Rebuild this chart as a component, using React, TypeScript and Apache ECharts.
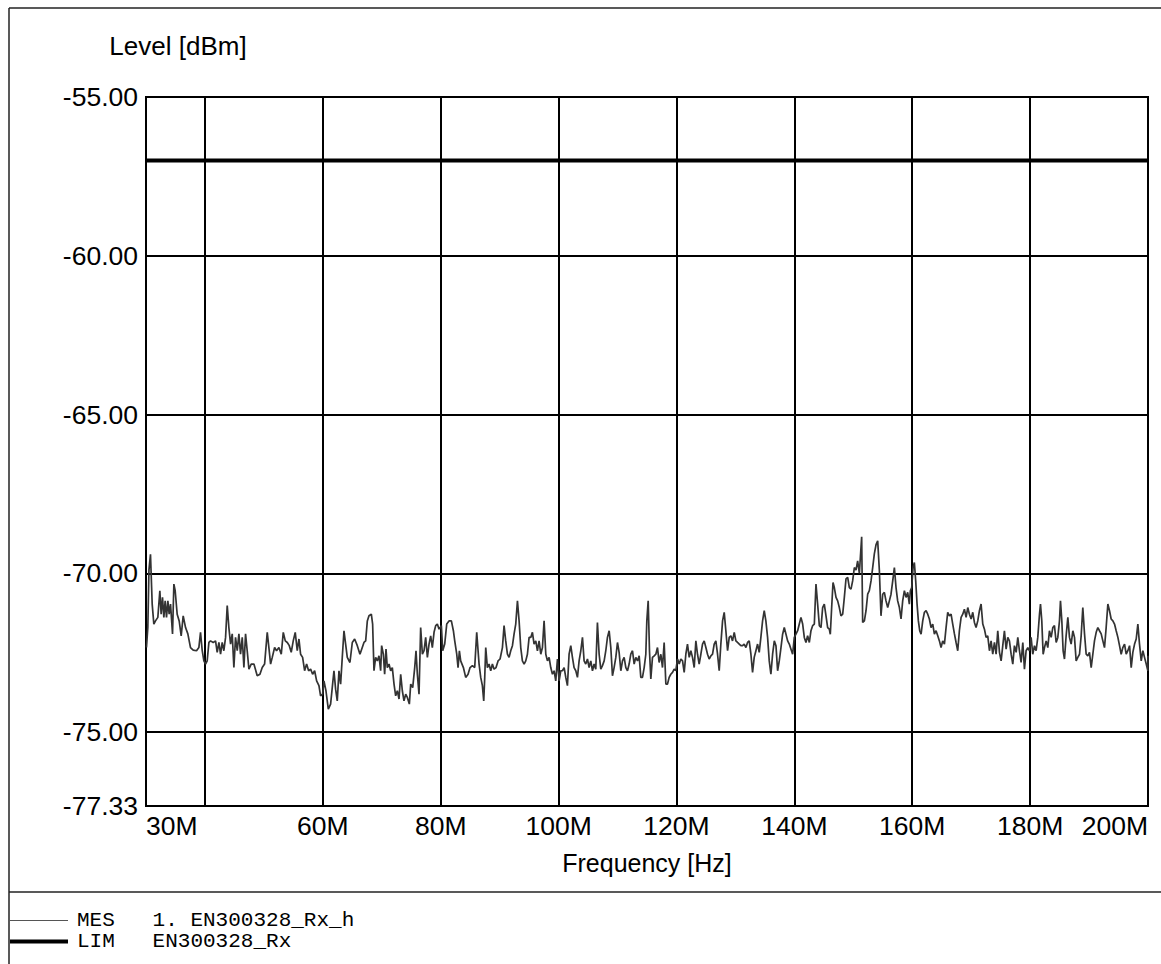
import React, { useEffect, useRef } from 'react';
import * as echarts from 'echarts';

// Axis ranges
const xMinMHz = 30;
const xMaxMHz = 200;
const yMinDbm = -77.33;
const yMaxDbm = -55;

// Frequencies (MHz) that carry a tick label
const xLabelValues = [30, 60, 80, 100, 120, 140, 160, 180, 200];

// Limit line (LIM) [MHz, dBm]
const limitLine = [
  [30, -57],
  [200, -57],
];

// Measured trace (MES) [MHz, dBm]
const mesTrace = [
  [30.08, -72.34], [30.31, -71.71], [30.5, -69.9], [30.76, -69.4], [31.05, -70.97], [31.33, -71.6], [31.61, -71.5], [32.01, -71.39],
  [32.35, -70.55], [32.57, -71.29], [32.8, -70.76], [33.03, -71.39], [33.25, -70.87], [33.48, -71.39], [33.71, -70.87], [33.93, -71.29],
  [34.16, -70.97], [34.5, -71.91], [34.73, -70.34], [34.95, -70.55], [35.29, -71.29], [35.63, -71.5], [35.97, -71.97], [36.31, -71.34],
  [36.71, -71.71], [37.1, -71.91], [37.55, -72.34], [38.01, -72.42], [38.57, -72.44], [38.97, -72.34], [39.25, -71.86], [39.54, -72.44],
  [39.82, -72.76], [40.1, -72.86], [40.38, -72.76], [40.67, -72.18], [40.95, -72.13], [41.4, -72.18], [41.8, -72.13], [42.08, -72.49],
  [42.37, -72.18], [42.65, -72.55], [42.93, -72.18], [43.21, -72.44], [43.5, -72.02], [43.78, -71.02], [44.06, -71.71], [44.35, -72.23],
  [44.63, -71.91], [44.91, -72.97], [45.19, -72.02], [45.48, -72.44], [45.76, -71.91], [46.04, -72.55], [46.33, -72.02], [46.61, -72.97],
  [46.89, -71.91], [47.17, -72.44], [47.46, -73.02], [47.85, -72.86], [48.31, -72.86], [48.87, -73.23], [49.33, -73.18], [49.72, -72.97],
  [50.12, -72.86], [50.57, -71.86], [50.85, -72.34], [51.14, -72.86], [51.42, -72.65], [51.82, -72.34], [52.15, -72.44], [52.55, -72.34],
  [52.95, -72.55], [53.29, -71.86], [53.63, -72.13], [53.97, -72.18], [54.31, -72.28], [54.64, -72.49], [54.98, -72.13], [55.32, -71.86],
  [55.66, -72.44], [55.95, -72.07], [56.23, -72.55], [56.57, -72.65], [56.91, -73.07], [57.25, -72.86], [57.59, -73.07], [57.93, -73.02],
  [58.27, -73.18], [58.61, -73.07], [58.95, -73.39], [59.34, -73.54], [59.62, -73.86], [59.96, -73.81], [60.19, -73.39], [60.53, -73.7],
  [60.93, -74.28], [61.32, -74.12], [61.66, -73.49], [61.89, -73.07], [62.17, -73.65], [62.45, -74.02], [62.74, -73.07], [63.02, -73.49],
  [63.3, -72.65], [63.59, -71.81], [63.87, -72.23], [64.15, -72.65], [64.6, -72.81], [65.0, -72.18], [65.4, -72.07], [65.85, -72.28],
  [66.3, -72.55], [66.42, -72.49], [66.98, -72.18], [67.27, -72.13], [67.55, -71.5], [67.83, -71.34], [68.23, -71.29], [68.45, -71.6],
  [68.68, -73.07], [68.96, -72.65], [69.25, -72.76], [69.53, -72.6], [69.81, -73.07], [69.98, -72.28], [70.27, -72.55], [70.49, -73.18],
  [70.72, -72.39], [70.94, -72.97], [71.23, -72.86], [71.51, -73.07], [71.79, -72.97], [72.08, -73.49], [72.36, -73.86], [72.64, -73.7],
  [72.93, -73.96], [73.21, -73.18], [73.49, -73.7], [73.77, -74.02], [74.06, -73.81], [74.34, -73.91], [74.68, -74.12], [74.91, -73.49],
  [75.25, -73.6], [75.59, -72.97], [75.81, -72.44], [76.04, -73.18], [76.32, -73.81], [76.6, -71.71], [76.89, -72.55], [77.17, -72.44],
  [77.45, -72.02], [77.74, -72.65], [78.02, -72.23], [78.3, -71.97], [78.58, -72.34], [78.87, -71.86], [79.15, -71.65], [79.43, -71.6],
  [79.72, -71.76], [80.11, -71.65], [80.34, -72.44], [80.68, -72.23], [81.02, -71.6], [81.41, -71.5], [81.81, -71.5], [82.15, -71.81],
  [82.38, -72.13], [82.72, -72.55], [82.94, -72.97], [83.17, -72.44], [83.39, -72.76], [83.85, -72.97], [84.24, -73.28], [84.64, -73.18],
  [84.98, -72.97], [85.38, -72.91], [85.77, -72.97], [86.11, -71.86], [86.51, -72.86], [86.79, -73.28], [87.07, -73.54], [87.3, -74.02],
  [87.47, -73.28], [87.64, -72.34], [87.92, -72.97], [88.2, -72.86], [88.49, -73.07], [88.77, -72.86], [89.05, -73.02], [89.39, -72.97],
  [89.73, -72.76], [90.07, -72.7], [90.47, -72.34], [90.75, -71.65], [91.03, -72.13], [91.32, -72.55], [91.6, -72.65], [91.88, -72.44],
  [92.17, -72.28], [92.45, -71.91], [92.73, -71.6], [93.02, -70.87], [93.3, -71.5], [93.58, -72.34], [93.86, -72.76], [94.15, -72.86],
  [94.43, -72.76], [94.71, -72.55], [95.0, -72.02], [95.28, -72.02], [95.56, -71.86], [95.84, -72.23], [96.13, -72.13], [96.41, -72.44],
  [96.69, -72.13], [96.98, -72.55], [97.26, -72.34], [97.54, -71.5], [97.83, -72.55], [98.11, -72.76], [98.39, -72.65], [98.67, -72.97],
  [98.96, -73.18], [99.24, -73.07], [99.52, -73.39], [99.81, -72.7], [100.09, -73.39], [100.37, -73.07], [100.65, -73.07], [100.94, -72.97],
  [101.22, -73.28], [101.5, -73.54], [101.78, -72.55], [102.07, -72.28], [102.35, -72.65], [102.63, -72.97], [102.92, -73.07], [103.2, -73.28],
  [103.48, -72.76], [103.77, -72.44], [104.05, -72.02], [104.33, -72.76], [104.61, -72.86], [104.9, -72.7], [105.18, -72.97], [105.46, -72.76],
  [105.75, -73.07], [106.03, -72.86], [106.31, -73.02], [106.59, -71.55], [106.88, -72.55], [107.16, -73.02], [107.44, -72.91], [107.73, -72.76],
  [108.01, -72.44], [108.29, -72.02], [108.58, -71.81], [108.86, -72.34], [109.14, -73.23], [109.42, -72.97], [109.71, -72.65], [109.99, -72.18],
  [110.27, -72.49], [110.56, -73.07], [110.84, -72.76], [111.12, -72.65], [111.41, -72.97], [111.69, -73.07], [111.97, -72.86], [112.25, -72.55],
  [112.54, -72.44], [112.82, -72.86], [113.1, -72.65], [113.39, -72.76], [113.67, -72.6], [113.95, -73.28], [114.23, -73.28], [114.52, -72.97],
  [114.8, -72.55], [114.97, -71.5], [115.2, -70.87], [115.42, -72.44], [115.65, -73.33], [115.93, -72.65], [116.22, -72.6], [116.5, -72.55],
  [116.78, -72.34], [117.06, -72.81], [117.35, -72.55], [117.63, -72.97], [117.91, -72.18], [118.2, -73.49], [118.48, -73.49], [118.76, -73.28],
  [119.04, -73.18], [119.33, -73.12], [119.61, -73.02], [119.89, -73.07], [120.18, -72.7], [120.46, -72.86], [120.74, -72.7], [121.03, -72.76],
  [121.31, -73.12], [121.59, -72.55], [121.87, -72.23], [122.16, -72.65], [122.44, -72.44], [122.72, -72.65], [123.01, -72.97], [123.29, -72.13],
  [123.57, -72.55], [123.85, -72.86], [124.14, -72.55], [124.42, -72.23], [124.7, -72.13], [124.99, -72.34], [125.27, -72.55], [125.55, -72.7],
  [125.84, -72.6], [126.12, -72.55], [126.4, -72.23], [126.68, -72.13], [126.97, -72.55], [127.25, -73.07], [127.53, -72.23], [127.82, -71.5],
  [128.1, -71.23], [128.38, -71.81], [128.67, -72.44], [128.95, -72.02], [129.23, -71.97], [129.51, -72.13], [129.8, -71.86], [130.08, -72.13],
  [130.36, -72.18], [130.65, -72.23], [130.93, -72.28], [131.21, -72.28], [131.49, -72.23], [131.78, -72.34], [132.06, -72.18], [132.34, -72.13],
  [132.63, -72.55], [132.91, -73.12], [133.19, -72.65], [133.48, -72.44], [133.76, -72.23], [134.04, -72.49], [134.32, -72.02], [134.61, -71.5],
  [134.89, -71.18], [135.17, -71.5], [135.46, -72.02], [135.74, -72.76], [136.02, -73.18], [136.31, -72.55], [136.6, -72.13], [136.88, -72.28],
  [137.16, -73.07], [137.44, -72.76], [137.73, -72.34], [138.01, -71.92], [138.29, -71.71], [138.58, -71.92], [138.86, -72.13], [139.14, -72.23],
  [139.43, -72.39], [139.71, -72.55], [139.99, -72.02], [140.27, -71.92], [140.56, -71.81], [140.84, -71.6], [141.12, -71.39], [141.41, -71.6],
  [141.69, -72.02], [141.97, -72.18], [142.25, -71.97], [142.54, -72.18], [142.82, -71.81], [143.1, -71.65], [143.39, -71.6], [143.67, -70.34],
  [143.95, -70.97], [144.24, -71.65], [144.52, -71.71], [144.8, -71.08], [145.08, -70.97], [145.37, -71.34], [145.65, -71.71], [145.93, -71.76],
  [146.1, -71.92], [146.33, -71.08], [146.56, -70.29], [146.78, -70.45], [147.07, -70.76], [147.35, -70.87], [147.63, -71.08], [147.91, -71.34],
  [148.2, -71.29], [148.48, -70.76], [148.76, -70.18], [149.05, -70.13], [149.33, -70.45], [149.61, -70.5], [149.89, -70.24], [150.18, -69.82],
  [150.46, -69.9], [150.74, -69.61], [151.03, -70.0], [151.42, -68.85], [151.59, -71.55], [151.88, -71.5], [152.16, -71.18], [152.44, -70.66],
  [152.72, -70.55], [153.01, -70.24], [153.29, -69.82], [153.57, -69.39], [153.86, -69.1], [154.14, -68.98], [154.42, -69.9], [154.7, -71.34],
  [154.99, -70.66], [155.27, -70.6], [155.55, -70.87], [155.84, -71.08], [156.12, -70.87], [156.4, -70.66], [156.69, -70.24], [156.97, -69.82],
  [157.25, -70.45], [157.53, -70.87], [157.82, -71.08], [158.1, -71.44], [158.38, -70.87], [158.67, -70.55], [158.95, -70.76], [159.23, -70.6],
  [159.51, -70.97], [159.68, -70.55], [159.91, -70.45], [160.14, -69.82], [160.36, -69.66], [160.59, -70.24], [160.82, -70.97], [161.04, -71.5],
  [161.27, -71.81], [161.5, -71.92], [161.78, -71.5], [162.06, -71.23], [162.35, -71.18], [162.63, -71.29], [162.91, -71.44], [163.19, -71.71],
  [163.48, -71.6], [163.76, -71.92], [164.04, -71.81], [164.33, -71.97], [164.61, -72.13], [164.89, -72.34], [165.17, -72.13], [165.46, -72.23],
  [165.74, -71.71], [166.02, -71.23], [166.31, -71.34], [166.59, -71.29], [166.87, -71.6], [167.16, -71.91], [167.44, -72.18], [167.72, -72.44],
  [168.0, -71.81], [168.29, -71.39], [168.57, -71.29], [168.85, -71.13], [169.14, -71.39], [169.42, -71.08], [169.7, -71.29], [169.99, -71.44],
  [170.27, -71.23], [170.55, -71.55], [170.83, -71.71], [171.12, -71.5], [171.4, -71.18], [171.68, -70.97], [171.97, -71.6], [172.25, -71.76],
  [172.53, -72.02], [172.81, -71.97], [173.1, -72.44], [173.38, -72.13], [173.66, -72.55], [173.95, -72.18], [174.23, -72.55], [174.51, -71.81],
  [174.8, -72.49], [175.08, -72.76], [175.36, -72.28], [175.64, -71.81], [175.93, -72.39], [176.21, -72.02], [176.49, -72.13], [176.78, -72.55],
  [177.06, -72.86], [177.34, -72.28], [177.63, -72.49], [177.91, -72.02], [178.19, -72.44], [178.47, -72.81], [178.76, -72.18], [179.04, -73.02],
  [179.32, -72.44], [179.61, -72.34], [179.89, -72.44], [180.17, -72.02], [180.45, -72.55], [180.74, -72.28], [181.02, -72.44], [181.3, -72.02],
  [181.59, -71.29], [181.76, -70.97], [181.98, -71.5], [182.21, -72.55], [182.44, -72.34], [182.72, -72.13], [183.0, -72.34], [183.28, -71.81],
  [183.57, -72.02], [183.85, -71.71], [184.13, -71.65], [184.42, -72.18], [184.7, -72.02], [184.98, -71.5], [185.15, -70.87], [185.38, -71.5],
  [185.6, -72.44], [185.83, -72.7], [186.11, -71.97], [186.4, -71.39], [186.68, -72.02], [186.96, -72.23], [187.25, -71.81], [187.53, -72.02],
  [187.81, -72.76], [188.09, -72.65], [188.38, -72.55], [188.66, -71.97], [188.94, -71.08], [189.23, -71.91], [189.51, -72.55], [189.79, -72.6],
  [190.07, -72.49], [190.36, -72.97], [190.64, -72.55], [190.92, -72.13], [191.21, -71.86], [191.49, -71.71], [191.77, -71.81], [192.06, -71.91],
  [192.34, -72.13], [192.62, -72.34], [192.9, -71.71], [193.19, -70.97], [193.47, -71.18], [193.75, -71.44], [194.04, -71.5], [194.32, -71.6],
  [194.6, -71.81], [194.89, -72.02], [195.17, -72.28], [195.45, -72.55], [195.73, -72.34], [196.02, -72.23], [196.3, -72.55], [196.58, -72.44],
  [196.87, -72.28], [197.15, -72.97], [197.43, -72.49], [197.72, -72.23], [198.0, -72.07], [198.28, -71.6], [198.56, -72.23], [198.85, -72.76],
  [199.13, -72.44], [199.41, -72.65], [199.7, -72.86], [199.98, -73.07], [200.0, -72.6],
];

const legendNames = ['MES', 'LIM'];
const legendTexts: Record<string, string> = {
  MES: 'MES   1. EN300328_Rx_h',
  LIM: 'LIM   EN300328_Rx',
};

const SANS = '"Liberation Sans", Arial, Helvetica, sans-serif';
const MONO = '"Liberation Mono", "Courier New", monospace';

export default function App() {
  const ref = useRef<HTMLDivElement>(null);

  useEffect(() => {
    if (!ref.current) return;
    const chart = echarts.init(ref.current, null, { renderer: 'svg' });
    const frame = { stroke: '#222', lineWidth: 1.5 };
    chart.setOption({
      animation: false,
      backgroundColor: '#ffffff',
      grid: {
        left: 146,
        right: 13,
        top: 97,
        bottom: 158,
        show: true,
        borderColor: '#000',
        borderWidth: 2,
        backgroundColor: 'transparent',
      },
      xAxis: {
        type: 'value',
        min: xMinMHz,
        max: xMaxMHz,
        splitNumber: 8,
        name: 'Frequency [Hz]',
        nameLocation: 'middle',
        nameGap: 44,
        nameTextStyle: { fontFamily: SANS, fontSize: 25, color: '#000' },
        axisLine: { show: true, lineStyle: { color: '#000', width: 2 } },
        axisTick: { show: false },
        axisLabel: {
          fontFamily: SANS,
          fontSize: 26.5,
          color: '#000',
          margin: 6,
          showMinLabel: true,
          showMaxLabel: true,
          alignMinLabel: 'left',
          alignMaxLabel: 'right',
          formatter: (v: number) => (xLabelValues.includes(Math.round(v)) ? `${Math.round(v)}M` : ''),
        },
        splitLine: { show: true, lineStyle: { color: '#000', width: 2 } },
      },
      yAxis: {
        type: 'value',
        min: yMinDbm,
        max: yMaxDbm,
        splitNumber: 5,
        name: 'Level [dBm]',
        nameLocation: 'end',
        nameGap: 51,
        nameTextStyle: {
          fontFamily: SANS,
          fontSize: 26,
          color: '#000',
          align: 'center',
          verticalAlign: 'middle',
          padding: [0, 0, 0, 64],
        },
        axisLine: { show: true, lineStyle: { color: '#000', width: 2 } },
        axisTick: { show: false },
        axisLabel: {
          fontFamily: SANS,
          fontSize: 26.5,
          color: '#000',
          margin: 8,
          showMinLabel: true,
          showMaxLabel: true,
          formatter: (v: number) => v.toFixed(2),
        },
        splitLine: { show: true, lineStyle: { color: '#000', width: 2 } },
      },
      legend: {
        orient: 'vertical',
        left: 10,
        top: 910,
        padding: 0,
        itemGap: 0,
        itemWidth: 58,
        itemHeight: 22,
        selectedMode: false,
        data: [
          { name: legendNames[0], icon: 'path://M0,0H58V1H0Z' },
          { name: legendNames[1], icon: 'path://M0,0H58V4H0Z' },
        ],
        itemStyle: { borderWidth: 0 },
        formatter: (name: string) => legendTexts[name] ?? name,
        textStyle: {
          fontFamily: MONO,
          fontSize: 21,
          color: '#000',
          lineHeight: 21,
          padding: [0, 0, 0, 4],
        },
      },
      graphic: [
        { type: 'line', silent: true, shape: { x1: 9, y1: 8, x2: 9, y2: 964 }, style: frame },
        { type: 'line', silent: true, shape: { x1: 9, y1: 8, x2: 1161, y2: 8 }, style: frame },
        { type: 'line', silent: true, shape: { x1: 9, y1: 892, x2: 1161, y2: 892 }, style: frame },
      ],
      series: [
        {
          name: 'MES',
          type: 'line',
          data: mesTrace,
          symbol: 'none',
          color: '#555',
          lineStyle: { color: '#333', width: 1.7 },
          z: 3,
          clip: true,
        },
        {
          name: 'LIM',
          type: 'line',
          data: limitLine,
          symbol: 'none',
          color: '#000',
          lineStyle: { color: '#000', width: 4 },
          z: 4,
        },
      ],
    });
    return () => chart.dispose();
  }, []);

  return (
    <div
      ref={ref}
      style={{ position: 'absolute', left: 0, top: 0, width: 1161, height: 964, background: '#fff' }}
    />
  );
}
